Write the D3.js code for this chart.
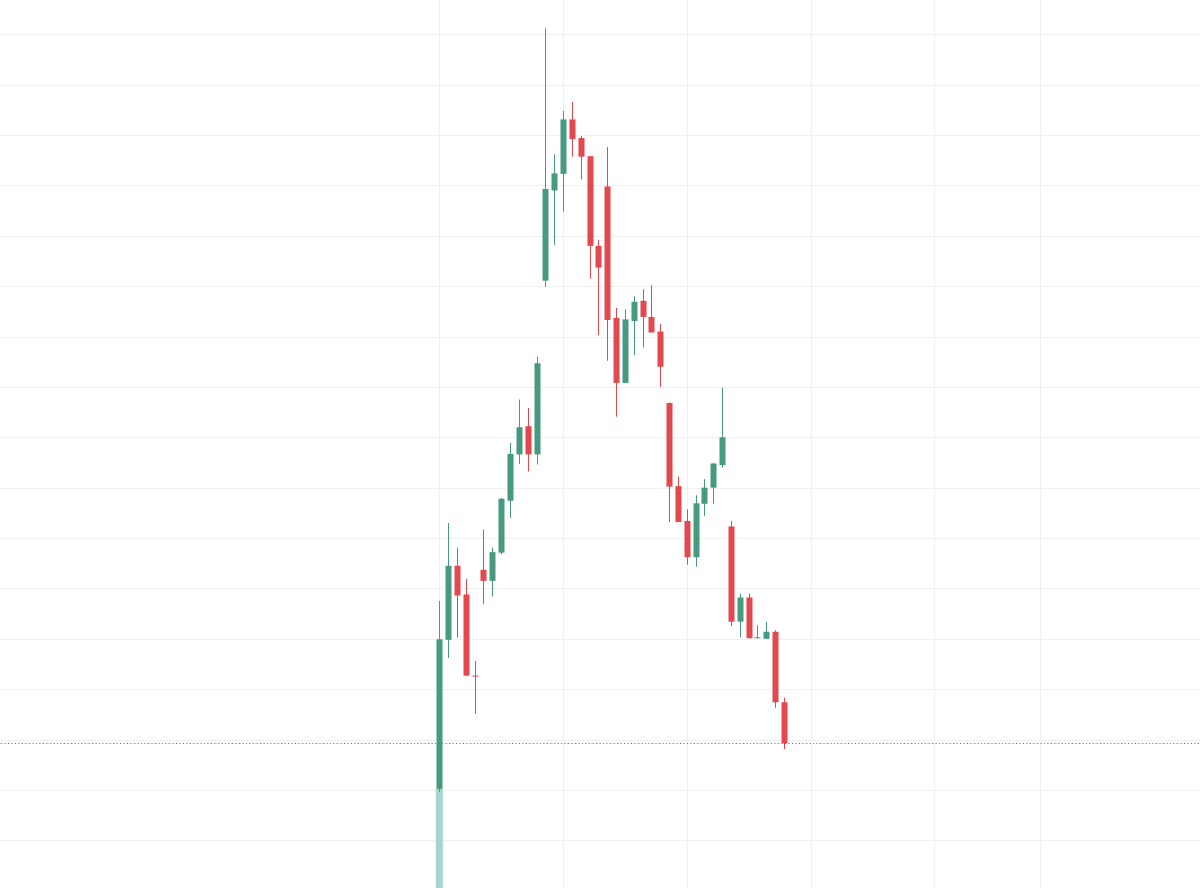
<!DOCTYPE html>
<html>
<head>
<meta charset="utf-8">
<script src="https://cdn.jsdelivr.net/npm/d3@7"></script>
<style>
    html, body { margin: 0; padding: 0; background: #ffffff; }
    #chart { width: 1200px; height: 888px; overflow: hidden; }
</style>
</head>
<body>
<div id="chart"></div>
<script>
// OHLC, one entry per bar (bar index = position on the time scale)
const opens  = [2.02, 4.98, 6.45, 5.88, 4.27, 6.37, 6.15, 6.71, 7.74, 8.66,
                9.22, 8.66, 12.11, 13.90, 14.23, 15.31, 14.94, 14.58, 12.80, 13.98,
                11.37, 10.08, 11.31, 11.71, 11.39, 11.10, 9.68, 8.03, 7.34, 6.62,
                7.68, 8.00, 8.45, 7.23, 5.34, 5.82, 5.01, 5.00, 5.14, 3.74]
const highs  = [5.75, 7.30, 6.81, 6.19, 4.56, 7.17, 6.81, 7.80, 8.89, 9.75,
                9.58, 10.60, 17.12, 14.62, 15.48, 15.66, 14.98, 14.58, 12.92, 14.76,
                11.57, 11.54, 11.80, 11.94, 12.02, 11.25, 9.69, 8.22, 7.57, 7.85,
                8.17, 8.49, 9.99, 7.34, 5.90, 5.90, 5.27, 5.34, 5.17, 3.83]
const lows   = [1.96, 4.62, 5.02, 4.26, 3.51, 5.69, 5.84, 6.68, 7.40, 8.47,
                8.32, 8.46, 11.99, 12.82, 13.48, 14.57, 14.12, 12.15, 11.03, 10.52,
                9.41, 10.08, 10.63, 10.78, 11.08, 10.00, 7.32, 7.32, 6.47, 6.43,
                7.44, 7.68, 8.40, 5.25, 5.03, 5.01, 5.01, 5.00, 3.63, 2.81]
const closes = [4.99, 6.45, 5.86, 4.27, 4.25, 6.15, 6.72, 7.78, 8.67, 9.20,
                8.66, 10.47, 13.93, 14.24, 15.31, 14.92, 14.57, 12.80, 12.37, 11.33,
                10.08, 11.34, 11.69, 11.39, 11.08, 10.40, 8.02, 7.32, 6.62, 7.69,
                8.00, 8.48, 9.00, 5.34, 5.82, 5.01, 5.03, 5.14, 3.74, 2.93]

// only the first bar has a visible volume column
const volumeBars = [0]
const volumeValues = [1840000]

// grid: bar indices of the time-scale marks, price levels of the horizontal lines
const timeGridBars = [0, 14, 28, 42, 56, 68]
const priceGridLevels = d3.range(1, 18)

const upColor = '#459a80'
const downColor = '#e2484d'
const volumeColor = '#a5d5cd'
const gridColor = '#f0f0f0'

const width = 1200
const height = 888

const bars = opens.map((o, i) => ({
    i: i,
    open: o,
    high: highs[i],
    low: lows[i],
    close: closes[i]
}))

const svg = d3.select('#chart')
    .append('svg')
    .attr('width', width)
    .attr('height', height)
    .style('display', 'block')

// bar spacing ~8.84px, first bar sits at 439.3
const x = d3.scaleLinear()
    .domain([0, 39])
    .range([439.3, 784])

const y = d3.scaleLinear()
    .domain([0.053, 17.681])
    .range([height, 0])

const yVol = d3.scaleLinear()
    .domain([0, d3.max(volumeValues)])
    .range([height, 789])

const bodyWidth = 6
const volWidth = 7

// Grid
const grid = svg.append('g').attr('class', 'grid')
grid.selectAll('line.h')
    .data(priceGridLevels)
    .enter()
    .append('line')
    .attr('class', 'h')
    .attr('x1', 0)
    .attr('x2', width)
    .attr('y1', d => Math.round(y(d)) + 0.5)
    .attr('y2', d => Math.round(y(d)) + 0.5)
    .attr('stroke', gridColor)
    .attr('stroke-width', 1)

grid.selectAll('line.v')
    .data(timeGridBars)
    .enter()
    .append('line')
    .attr('class', 'v')
    .attr('x1', d => Math.round(x(d)) + 0.5)
    .attr('x2', d => Math.round(x(d)) + 0.5)
    .attr('y1', 0)
    .attr('y2', height)
    .attr('stroke', gridColor)
    .attr('stroke-width', 1)

// Volume (drawn under the candles)
svg.append('g')
    .selectAll('rect')
    .data(volumeBars.map((b, k) => ({ i: b, v: volumeValues[k] })))
    .enter()
    .append('rect')
    .attr('x', d => x(d.i) - volWidth / 2)
    .attr('y', d => yVol(d.v))
    .attr('width', volWidth)
    .attr('height', d => height - yVol(d.v))
    .attr('fill', volumeColor)

// Last price line: dotted, red dots over a faint grey dot pattern
const last = bars[bars.length - 1]
const lastY = Math.round(y(last.close)) + 0.5
svg.append('line')
    .attr('x1', 0)
    .attr('x2', width)
    .attr('y1', lastY)
    .attr('y2', lastY)
    .attr('stroke', '#d6d6d6')
    .attr('stroke-width', 1)
    .attr('stroke-dasharray', '1,2')
svg.append('line')
    .attr('x1', 1)
    .attr('x2', width)
    .attr('y1', lastY)
    .attr('y2', lastY)
    .attr('stroke', last.close >= last.open ? upColor : downColor)
    .attr('stroke-width', 1)
    .attr('stroke-dasharray', '1,2.5')

// Candles
const candles = svg.append('g')
    .selectAll('g')
    .data(bars)
    .enter()
    .append('g')
    .attr('fill', d => d.close >= d.open ? upColor : downColor)
    .attr('stroke', d => d.close >= d.open ? upColor : downColor)

candles.append('line')
    .attr('x1', d => Math.round(x(d.i)) + 0.5)
    .attr('x2', d => Math.round(x(d.i)) + 0.5)
    .attr('y1', d => y(d.high))
    .attr('y2', d => y(d.low))
    .attr('stroke-width', 1)

candles.append('rect')
    .attr('x', d => Math.round(x(d.i)) + 0.5 - bodyWidth / 2)
    .attr('y', d => y(Math.max(d.open, d.close)))
    .attr('width', bodyWidth)
    .attr('height', d => Math.max(1, Math.abs(y(d.open) - y(d.close))))
    .attr('stroke', 'none')
</script>
</body>
</html>
